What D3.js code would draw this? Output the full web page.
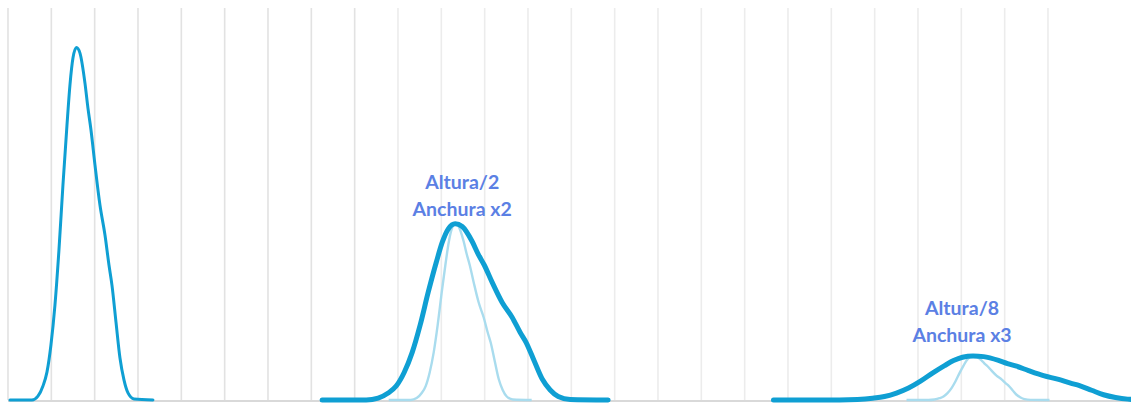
<!DOCTYPE html>
<html>
<head>
<meta charset="utf-8">
<script src="https://cdn.jsdelivr.net/npm/d3@7"></script>
<style>
  html, body { margin: 0; padding: 0; background: #ffffff; }
  svg { display: block; }
</style>
</head>
<body>
<svg id="chart" width="1131" height="403"></svg>
<script>
// Base peak profile: offset from the peak (grid units) and height relative to the peak
const profileOffset = [-1.535, -1.027, -0.889, -0.773, -0.681, -0.589, -0.496, -0.404, -0.312, -0.219, -0.150, -0.081,
  0, 0.081, 0.196, 0.265, 0.335, 0.427, 0.542, 0.658, 0.750, 0.819, 0.912, 1.004, 1.096, 1.189, 1.327, 1.765];
const profileHeight = [0, 0, 0.011, 0.040, 0.079, 0.156, 0.270, 0.426, 0.610, 0.780, 0.894, 0.970,
  1, 0.984, 0.899, 0.828, 0.766, 0.667, 0.553, 0.468, 0.383, 0.326, 0.221, 0.119, 0.057, 0.020, 0.003, 0];

// Three peaks: position, height divisor (Altura/n) and width factor (Anchura xn)
const peakNames = ["original", "mitad", "octavo"];
const peakCenters = [1.58, 10.32, 22.27];
const heightDivisors = [1, 2, 8];
const widthFactors = [1, 2, 3];
const labelLines = [null, ["Altura/2", "Anchura x2"], ["Altura/8", "Anchura x3"]];

// Vertical grid positions (grid units)
const gridTicks = d3.range(0, 25);

const svg = d3.select("#chart");
const x = d3.scaleLinear().domain([0, 24]).range([8, 1048]);
const y = d3.scaleLinear().domain([0, 1]).range([400, 47.5]);

// grid lines
svg.append("g")
  .selectAll("line")
  .data(gridTicks)
  .join("line")
  .attr("x1", d => x(d)).attr("x2", d => x(d))
  .attr("y1", 8).attr("y2", 400)
  .attr("stroke", (d, i) => i < 9 ? "#e2e2e2" : "#ececec")
  .attr("stroke-width", 1.6);

// baseline
svg.append("line")
  .attr("x1", x(0)).attr("x2", 1131)
  .attr("y1", 401).attr("y2", 401)
  .attr("stroke", "#d9d9d9")
  .attr("stroke-width", 2);

const base = profileOffset.map((o, i) => ({ o, h: profileHeight[i] }));

const line = d3.line()
  .x(d => x(d.x))
  .y(d => y(d.y))
  .curve(d3.curveMonotoneX);

function shape(center, divisor, widthFactor) {
  return base.map(p => ({ x: center + p.o * widthFactor, y: p.h / divisor }));
}

const peaks = peakNames.map((name, i) => ({
  name,
  center: peakCenters[i],
  div: heightDivisors[i],
  wf: widthFactors[i],
  label: labelLines[i]
}));

// reference shapes: original width at the reduced height
svg.append("g")
  .selectAll("path")
  .data(peaks.filter(p => p.wf !== 1))
  .join("path")
  .attr("d", p => line(shape(p.center, p.div, 1)))
  .attr("fill", "none")
  .attr("stroke", "#a9dcee")
  .attr("stroke-width", 2.4)
  .attr("stroke-linejoin", "round");

// transformed shapes
svg.append("g")
  .selectAll("path")
  .data(peaks)
  .join("path")
  .attr("d", p => line(shape(p.center, p.div, p.wf)))
  .attr("fill", "none")
  .attr("stroke", "#0f9fd3")
  .attr("stroke-width", p => p.wf === 1 ? 3 : 5)
  .attr("stroke-linejoin", "round")
  .attr("stroke-linecap", "round");

// annotations
const labelDx = { 2: 7, 8: -11 };
const labelDy = { 2: 35, 8: 41 };
const labels = svg.append("g")
  .selectAll("text")
  .data(peaks.filter(p => p.label))
  .join("text")
  .attr("text-anchor", "middle")
  .attr("font-family", "Lato, 'Open Sans', sans-serif")
  .attr("font-weight", "bold")
  .attr("font-size", 19.5)
  .attr("fill", "#5b80e4")
  .attr("x", p => x(p.center) + labelDx[p.div])
  .attr("y", p => y(1 / p.div) - labelDy[p.div]);

labels.selectAll("tspan")
  .data(p => p.label)
  .join("tspan")
  .attr("x", function () { return d3.select(this.parentNode).attr("x"); })
  .attr("dy", (d, i) => i === 0 ? 0 : 27)
  .text(d => d);
</script>
</body>
</html>
